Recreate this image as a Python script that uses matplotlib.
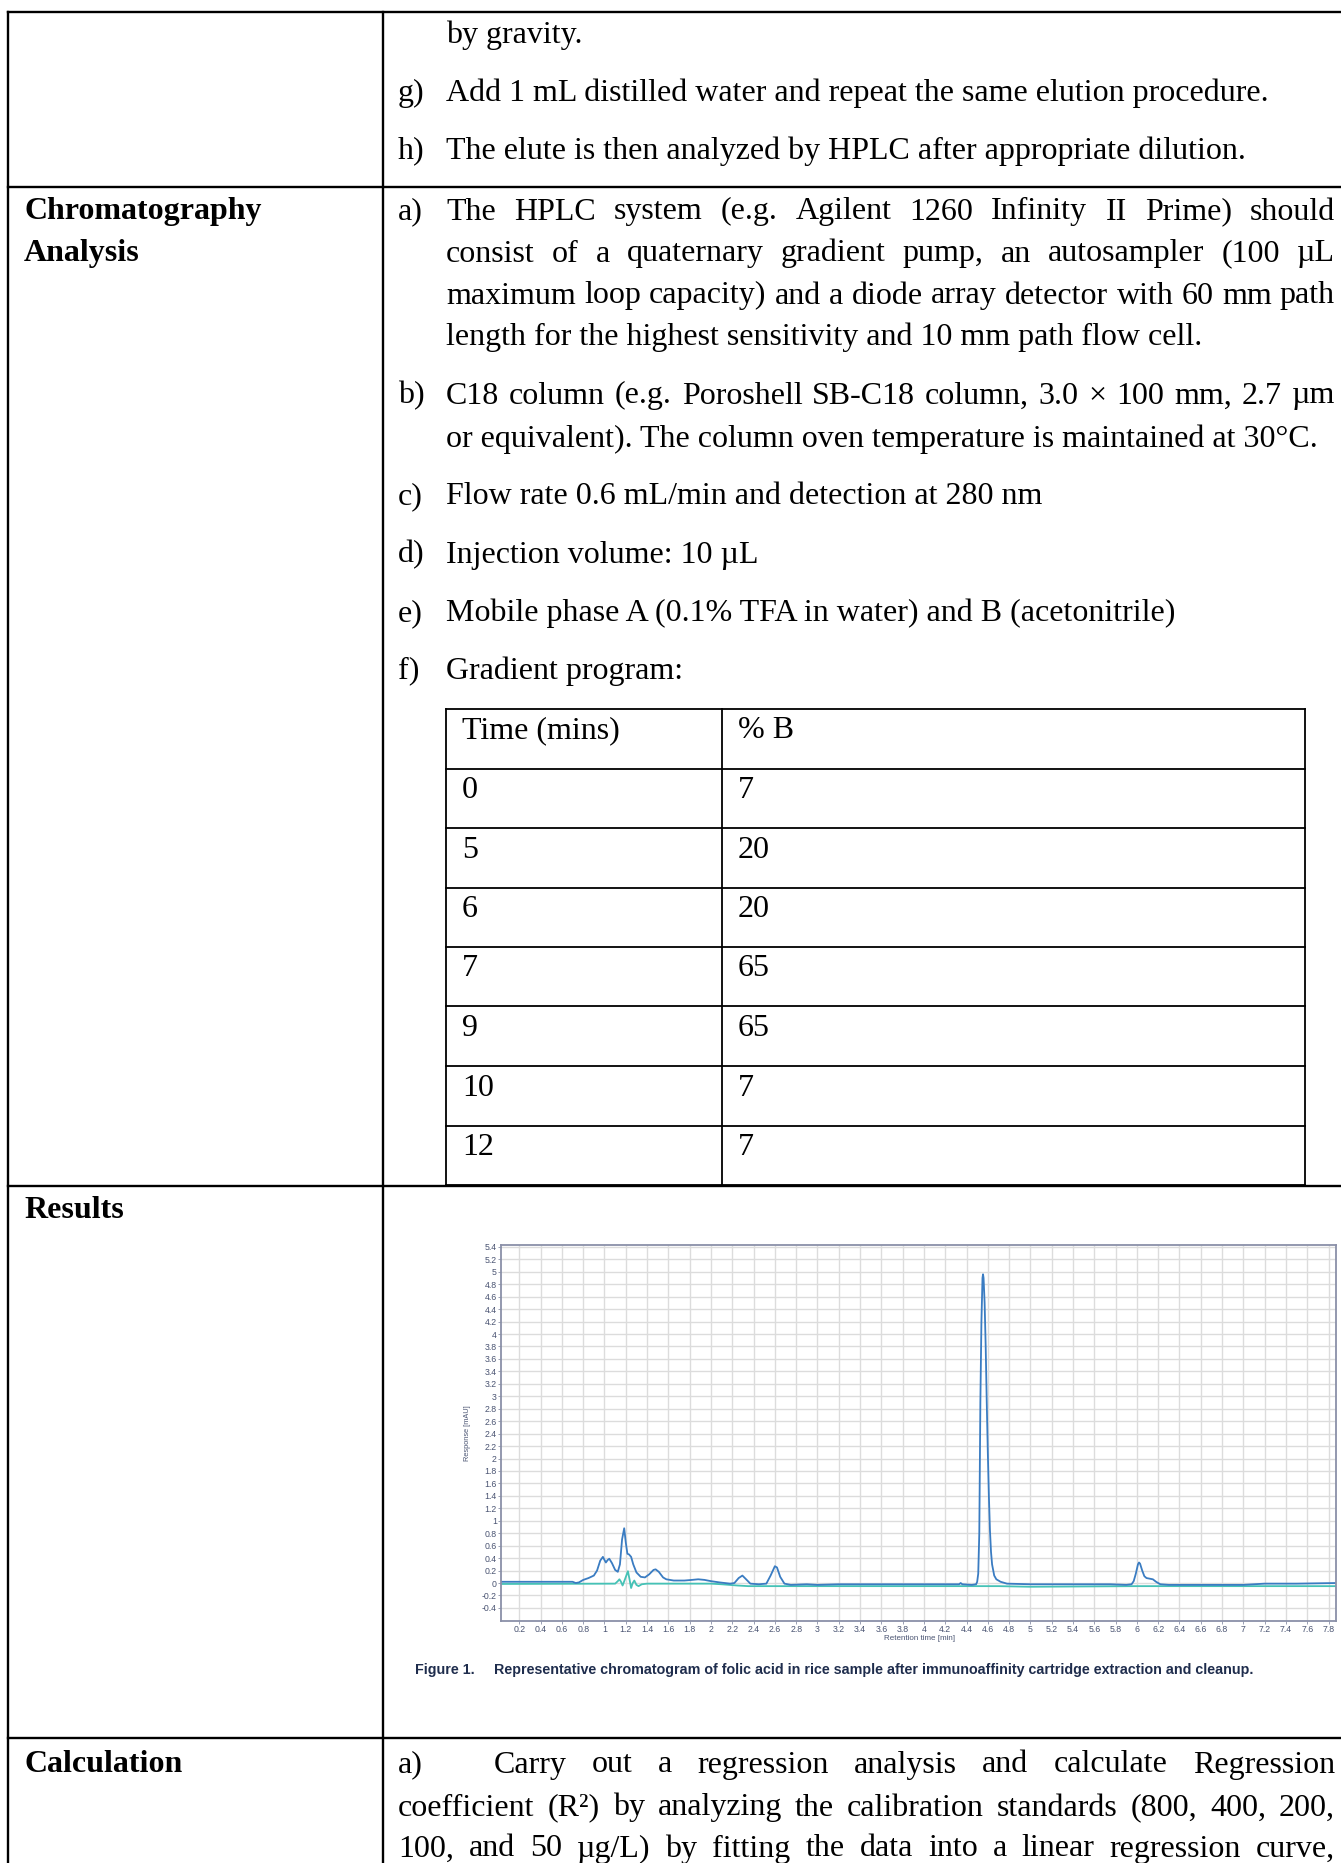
import numpy as np
import matplotlib
matplotlib.use("Agg")
import matplotlib.pyplot as plt
from matplotlib.lines import Line2D

W, H = 1341, 1863

# chromatogram traces (time in min, response in mAU)
blue_t = [0.03, 0.40, 0.70, 0.73, 0.76, 0.80, 0.85, 0.90, 0.93, 0.96, 0.985, 1.00, 1.013,
          1.03, 1.045, 1.07, 1.10, 1.125, 1.145, 1.165, 1.185, 1.20, 1.215, 1.23, 1.25,
          1.27, 1.30, 1.34, 1.38, 1.42, 1.46, 1.48, 1.51, 1.55, 1.58, 1.65, 1.75, 1.82,
          1.88, 1.94, 2.00, 2.08, 2.18, 2.22, 2.26, 2.295, 2.33, 2.37, 2.45, 2.52, 2.56,
          2.60, 2.62, 2.65, 2.69, 2.75, 2.90, 3.00, 3.20, 3.60, 4.00, 4.33, 4.345, 4.36,
          4.45, 4.49, 4.50, 4.51, 4.52, 4.53, 4.54, 4.55, 4.555, 4.56, 4.57, 4.58, 4.59,
          4.60, 4.61, 4.62, 4.63, 4.64, 4.66, 4.68, 4.72, 4.78, 5.00, 5.40, 5.75, 5.90,
          5.95, 5.97, 5.99, 6.01, 6.02, 6.03, 6.05, 6.07, 6.09, 6.12, 6.15, 6.18, 6.22,
          6.30, 6.60, 7.00, 7.20, 7.50, 7.87]
blue_y = [0.02, 0.02, 0.02, 0.00, 0.01, 0.05, 0.08, 0.12, 0.20, 0.36, 0.42, 0.37, 0.33,
          0.37, 0.39, 0.32, 0.21, 0.18, 0.30, 0.70, 0.88, 0.65, 0.47, 0.46, 0.42,
          0.30, 0.17, 0.10, 0.09, 0.14, 0.21, 0.22, 0.18, 0.09, 0.06, 0.04, 0.04, 0.05,
          0.06, 0.05, 0.03, 0.01, -0.01, 0.00, 0.08, 0.12, 0.06, -0.01, -0.02, -0.01, 0.12,
          0.27, 0.25, 0.10, -0.01, -0.03, -0.02, -0.03, -0.02, -0.02, -0.02, -0.02, 0.00, -0.02,
          -0.03, -0.02, 0.02, 0.15, 0.80, 2.90, 4.20, 4.90, 4.96, 4.90, 4.50, 3.80, 2.90,
          2.10, 1.40, 0.85, 0.50, 0.30, 0.12, 0.06, 0.02, -0.01, -0.02, -0.02, -0.02, -0.03,
          -0.02, 0.03, 0.15, 0.30, 0.33, 0.31, 0.20, 0.11, 0.08, 0.07, 0.06, 0.02, -0.02,
          -0.03, -0.03, -0.03, -0.01, -0.01, 0.00]

teal_t = [0.03, 1.10, 1.125, 1.14, 1.155, 1.17, 1.19, 1.22, 1.235, 1.25, 1.265, 1.28,
          1.30, 1.32, 1.35, 1.40, 2.00, 2.10, 2.25, 2.35, 3.00, 4.50, 4.70, 5.00, 6.00,
          7.00, 7.87]
teal_y = [-0.015, -0.01, 0.03, 0.06, 0.02, -0.04, 0.05, 0.19, 0.06, -0.08, 0.00, 0.04,
          -0.03, -0.05, -0.02, -0.01, -0.01, -0.02, -0.04, -0.05, -0.05, -0.05, -0.05, -0.06, -0.05,
          -0.05, -0.05]

grad_time = ["0", "5", "6", "7", "9", "10", "12"]
grad_b = ["7", "20", "20", "65", "65", "7", "7"]

fig = plt.figure(figsize=(W / 100, H / 100), dpi=100)
renderer = fig.canvas.get_renderer()

def fx(x):
    return x / W

def fy(y):
    return 1 - y / H

def line(x0, y0, x1, y1, lw=1.7):
    fig.add_artist(Line2D([fx(x0), fx(x1)], [fy(y0), fy(y1)], transform=fig.transFigure,
                          color="black", lw=lw, solid_capstyle="projecting"))

SERIF = "Liberation Serif"
FS = 23
DY = 1.5  # small downward nudge for the text baselines

def txt(x, y, s, **kw):
    kw.setdefault("fontsize", FS)
    kw.setdefault("family", SERIF)
    return fig.text(fx(x), fy(y + DY), s, va="baseline", ha="left", **kw)

def justify(x0, x1, y, s, **kw):
    words = s.split()
    objs = [txt(x0, y, w, **kw) for w in words]
    widths = [o.get_window_extent(renderer).width for o in objs]
    gap = (x1 - x0 - sum(widths)) / (len(words) - 1)
    x = x0
    for o, w in zip(objs, widths):
        o.set_x(fx(x))
        x += w + gap

# outer table
RIGHT = 1335
for yy in [12, 187, 1186, 1738]:
    line(8, yy, 1341, yy)
line(8, 12, 8, 1863)
line(383, 12, 383, 1863)

# row 1 (continuation)
txt(446, 41, "by gravity.")
txt(398, 99, "g)")
txt(446, 99, "Add 1 mL distilled water and repeat the same elution procedure.")
txt(398, 157, "h)")
txt(446, 157, "The elute is then analyzed by HPLC after appropriate dilution.")

# row 2
txt(24, 218, "Chromatography", weight="bold")
txt(24, 260, "Analysis", weight="bold")
txt(398, 218, "a)")
justify(446, RIGHT, 218, "The HPLC system (e.g. Agilent 1260 Infinity II Prime) should")
justify(446, RIGHT, 260, "consist of a quaternary gradient pump, an autosampler (100 µL")
justify(446, RIGHT, 302, "maximum loop capacity) and a diode array detector with 60 mm path")
txt(446, 344, "length for the highest sensitivity and 10 mm path flow cell.")
txt(398, 402, "b)")
justify(446, RIGHT, 402, "C18 column (e.g. Poroshell SB-C18 column, 3.0 × 100 mm, 2.7 µm")
txt(446, 445, "or equivalent). The column oven temperature is maintained at 30°C.")
txt(398, 503, "c)")
txt(446, 503, "Flow rate 0.6 mL/min and detection at 280 nm")
txt(398, 561, "d)")
txt(446, 561, "Injection volume: 10 µL")
txt(398, 620, "e)")
txt(446, 620, "Mobile phase A (0.1% TFA in water) and B (acetonitrile)")
txt(398, 677, "f)")
txt(446, 677, "Gradient program:")

# gradient table
row_h = (1185 - 709) / 8
rows_y = [709 + i * row_h for i in range(9)]
for yy in rows_y:
    line(446, yy, 1305, yy, lw=1.3)
for xx in [446, 722, 1305]:
    line(xx, 709, xx, 1185, lw=1.3)
txt(462, rows_y[0] + 28, "Time (mins)")
txt(738, rows_y[0] + 28, "% B")
for i, (a, b) in enumerate(zip(grad_time, grad_b)):
    txt(462, rows_y[i + 1] + 28, a)
    txt(738, rows_y[i + 1] + 28, b)

# row 3 - results
txt(24, 1217, "Results", weight="bold")

ax = fig.add_axes([fx(501), fy(1621), (1336 - 501) / W, (1621 - 1245) / H])
ax.plot(teal_t, teal_y, color="#45c2b6", lw=1.3)
ax.plot(blue_t, blue_y, color="#3a7cc2", lw=1.3)
ax.set_xlim(0.028, 7.87)
ax.set_ylim(-0.61, 5.43)
xt = np.round(np.arange(0.2, 7.81, 0.2), 1)
yt = np.round(np.arange(-0.4, 5.41, 0.2), 1)
ax.set_xticks(xt)
ax.set_xticklabels([f"{v + 0.0:g}" for v in xt])
ax.set_yticks(yt)
ax.set_yticklabels([f"{v + 0.0:g}" for v in yt])
ax.grid(color="#dcdcdc", lw=1.0)
for s in ax.spines.values():
    s.set_color("#8a90a8")
    s.set_linewidth(1.3)
ax.tick_params(labelsize=6.3, labelcolor="#4a5472", color="#8a90a8", length=2, width=0.6, pad=1)
for lab in ax.get_xticklabels() + ax.get_yticklabels():
    lab.set_family("Liberation Sans")

fig.text(fx(467), fy(1433), "Response [mAU]", rotation=90, fontsize=5.3, color="#4a5472",
         ha="center", va="center", family="Liberation Sans")
fig.text(fx(919), fy(1638), "Retention time [min]", fontsize=5.8, color="#4a5472",
         ha="center", va="center", family="Liberation Sans")

CAP_FS = 10.3
fig.text(fx(415), fy(1670), "Figure 1.", fontsize=CAP_FS, weight="bold", color="#1f2d4d",
         ha="left", va="center", family="Liberation Sans")
fig.text(fx(494), fy(1670), "Representative chromatogram of folic acid in rice sample after "
         "immunoaffinity cartridge extraction and cleanup.", fontsize=CAP_FS, weight="bold",
         color="#1f2d4d", ha="left", va="center", family="Liberation Sans")

# row 4 - calculation
txt(24, 1771, "Calculation", weight="bold")
txt(398, 1771, "a)")
justify(494, RIGHT, 1771, "Carry out a regression analysis and calculate Regression")
justify(398, RIGHT, 1814, "coefficient (R²) by analyzing the calibration standards (800, 400, 200,")
justify(398, RIGHT, 1855, "100, and 50 µg/L) by fitting the data into a linear regression curve,")

fig.savefig("out.png", dpi=100)
